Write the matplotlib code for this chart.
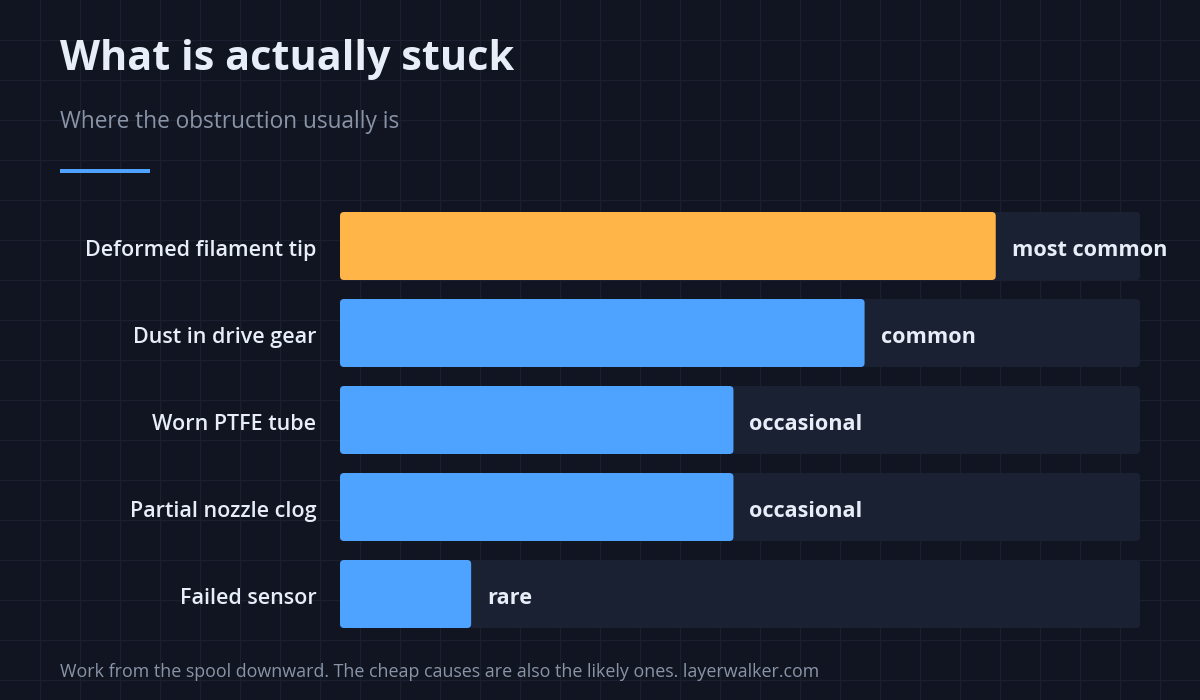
import matplotlib.pyplot as plt
from matplotlib.patches import FancyBboxPatch, Rectangle

# data
causes = ['Deformed filament tip', 'Dust in drive gear', 'Worn PTFE tube',
          'Partial nozzle clog', 'Failed sensor']
scores = [5, 4, 3, 3, 1]
freq_labels = ['most common', 'common', 'occasional', 'occasional', 'rare']
highlight = [True, False, False, False, False]

title = 'What is actually stuck'
subtitle = 'Where the obstruction usually is'
footer = 'Work from the spool downward. The cheap causes are also the likely ones. layerwalker.com'

BG = '#111521'
GRID = '#1b2030'
TRACK = '#1a2133'
BLUE = '#4da3ff'
ORANGE = '#ffb547'
TEXT = '#e8eef8'
MUTED = '#8a94a7'
FONT = ['Open Sans', 'DejaVu Sans']

W, H = 1200, 700
fig = plt.figure(figsize=(12, 7), dpi=100, facecolor=BG)
plt.rcParams['font.family'] = FONT

# background axes in pixel coordinates
bg = fig.add_axes([0, 0, 1, 1])
bg.set_xlim(0, W)
bg.set_ylim(H, 0)
bg.axis('off')
bg.set_facecolor(BG)
for x in range(40, W, 40):
    bg.axvline(x, color=GRID, lw=0.9, zorder=0)
for y in range(40, H, 40):
    bg.axhline(y, color=GRID, lw=0.9, zorder=0)

bg.text(60, 70, title, fontsize=29.8, fontweight='bold', color=TEXT, va='baseline')
bg.text(60, 128, subtitle, fontsize=16.3, color=MUTED, va='baseline')
bg.add_patch(Rectangle((60, 169), 90, 4, color=BLUE, lw=0))
bg.text(60, 677, footer, fontsize=12.9, color=MUTED, va='baseline')

# bar axes
x0, x1 = 340, 1140
y_top, y_bot = 212, 628
ax = fig.add_axes([x0 / W, 1 - y_bot / H, (x1 - x0) / W, (y_bot - y_top) / H])
ax.patch.set_alpha(0)
ax.axis('off')
xmax = 6.1
bar_h = 68 / 87
ax.set_xlim(0, xmax)
ax.set_ylim(len(causes) - 1 + bar_h / 2, -bar_h / 2)

px_x = (x1 - x0) / xmax   # pixels per x unit
px_y = 87                 # pixels per y unit
radius = 4 / px_x
aspect = px_x / px_y


def rounded(rects, colors, z):
    for r, c in zip(rects, colors):
        p = FancyBboxPatch((r.get_x(), r.get_y()), r.get_width(), r.get_height(),
                           boxstyle=f'round,pad=0,rounding_size={radius}',
                           mutation_aspect=aspect, fc=c, ec='none', zorder=z)
        ax.add_patch(p)
        r.remove()


ypos = list(range(len(causes)))
tracks = ax.barh(ypos, [xmax] * len(causes), height=bar_h, left=0)
rounded(tracks, [TRACK] * len(causes), 1)
bars = ax.barh(ypos, scores, height=bar_h, left=0)
rounded(bars, [ORANGE if h else BLUE for h in highlight], 2)

for y, name, val, lab in zip(ypos, causes, scores, freq_labels):
    ax.annotate(name, (0, y), xytext=(-17, -3.5), textcoords='offset points',
                ha='right', va='center', fontsize=15.5, fontweight='semibold', color=TEXT)
    ax.annotate(lab, (val, y), xytext=(11.5, -3.5), textcoords='offset points',
                ha='left', va='center', fontsize=15.6, fontweight='bold', color=TEXT, zorder=3)

fig.savefig('out.png', dpi=100, facecolor=BG)
